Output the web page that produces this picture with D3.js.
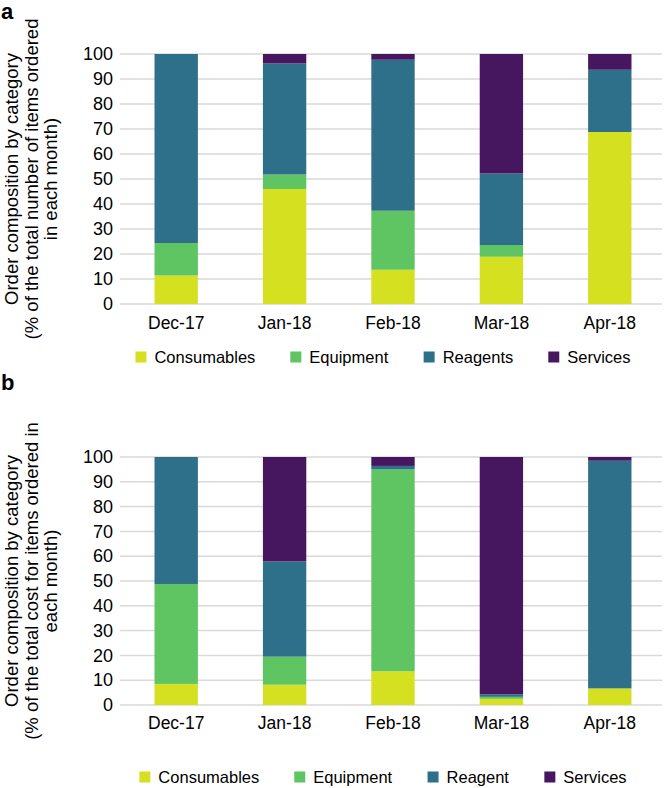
<!DOCTYPE html>
<html>
<head>
<meta charset="utf-8">
<script src="https://cdn.jsdelivr.net/npm/d3@7"></script>
<style>
  body { margin: 0; background: #fff; }
  svg { font-family: "Liberation Sans", Arial, sans-serif; display: block; }
  .grid line { stroke: #d9d9d9; stroke-width: 1.5; }
</style>
</head>
<body>
<svg id="chart" width="664" height="788"></svg>
<script>

var months = ["Dec-17", "Jan-18", "Feb-18", "Mar-18", "Apr-18"];
var yTicks = [0, 10, 20, 30, 40, 50, 60, 70, 80, 90, 100];
var colors = ["#d5e021", "#5fc462", "#2e6f89", "#46165f"];

// panel a: share of number of items
var countCategories = ["Consumables", "Equipment", "Reagents", "Services"];
var countConsumables = [11.4, 46.0, 13.7, 18.9, 68.8];
var countEquipment   = [13.0, 5.8, 23.6, 4.7, 0];
var countReagents    = [75.6, 44.4, 60.4, 28.6, 24.9];
var countServices    = [0, 3.8, 2.3, 47.8, 6.3];

// panel b: share of cost
var costCategories = ["Consumables", "Equipment", "Reagent", "Services"];
var costConsumables = [8.5, 8.2, 13.6, 2.5, 6.7];
var costEquipment   = [40.3, 11.3, 81.4, 0.8, 0];
var costReagent     = [51.2, 38.4, 1.4, 1.0, 91.8];
var costServices    = [0, 42.1, 3.6, 95.7, 1.5];

var svg = d3.select("#chart");

drawPanel({
    letter: "a", letterY: 19,
    top: 54, bottom: 304,
    labelY: 330, legendY: 357,
    title: ["Order composition by category", "(% of the total number of items ordered", "in each month)"],
    categories: countCategories,
    series: [countConsumables, countEquipment, countReagents, countServices]
});

drawPanel({
    letter: "b", letterY: 390,
    top: 457, bottom: 705,
    labelY: 730, legendY: 777,
    title: ["Order composition by category", "(% of the total cost for items ordered in", "each month)"],
    categories: costCategories,
    series: [costConsumables, costEquipment, costReagent, costServices]
});

function drawPanel(p) {
    var left = 122, right = 664;

    var rows = months.map(function(m, i) {
        var r = {month: m};
        p.categories.forEach(function(c, j) { r[c] = p.series[j][i]; });
        return r;
    });

    var x = d3.scaleBand()
        .domain(months)
        .range([left, right])
        .paddingInner(0.6)
        .paddingOuter(0.3);

    var y = d3.scaleLinear()
        .domain([0, 100])
        .range([p.bottom, p.top]);

    var g = svg.append("g");

    // gridlines
    g.append("g")
        .attr("class", "grid")
        .selectAll("line")
        .data(yTicks)
        .enter().append("line")
            .attr("x1", left - 2)
            .attr("x2", right - 2)
            .attr("y1", function(d) { return y(d); })
            .attr("y2", function(d) { return y(d); });

    var yAxis = d3.axisLeft(y).tickValues(yTicks).tickSize(0).tickPadding(9);
    g.append("g")
        .attr("transform", "translate(" + left + ",0)")
        .call(yAxis)
        .call(function(a) { a.select(".domain").remove(); })
        .selectAll("text")
            .attr("font-size", 18)
            .attr("font-family", "Liberation Sans, Arial, sans-serif")
            .attr("fill", "#000");

    var xAxis = d3.axisBottom(x).tickSize(0).tickPadding(0);
    g.append("g")
        .attr("transform", "translate(0," + (p.labelY - 13) + ")")
        .call(xAxis)
        .call(function(a) { a.select(".domain").remove(); })
        .selectAll("text")
            .attr("font-size", 17.5)
            .attr("font-family", "Liberation Sans, Arial, sans-serif")
            .attr("fill", "#000");

    var stacked = d3.stack().keys(p.categories)(rows);

    g.selectAll(".layer")
        .data(stacked)
        .enter().append("g")
            .attr("class", "layer")
            .attr("fill", function(d, i) { return colors[i]; })
        .selectAll("rect")
        .data(function(d) { return d; })
        .enter().append("rect")
            .attr("x", function(d) { return x(d.data.month); })
            .attr("y", function(d) { return y(d[1]); })
            .attr("height", function(d) { return y(d[0]) - y(d[1]); })
            .attr("width", x.bandwidth());

    // panel letter
    svg.append("text")
        .attr("x", 1)
        .attr("y", p.letterY)
        .attr("font-size", 22)
        .attr("font-weight", "bold")
        .text(p.letter);

    // y title, three lines
    var cy = (p.top + p.bottom) / 2;
    var title = svg.append("text")
        .attr("transform", "translate(0," + cy + ") rotate(-90)")
        .attr("text-anchor", "middle")
        .attr("font-size", 18.5);
    title.selectAll("tspan")
        .data(p.title)
        .enter().append("tspan")
            .attr("x", 0)
            .attr("y", function(d, i) { return 18 + i * 19.5; })
            .text(function(d) { return d; });

    // legend
    var legend = svg.append("g");
    var items = legend.selectAll("g")
        .data(p.categories)
        .enter().append("g");
    items.append("rect")
        .attr("width", 11)
        .attr("height", 11)
        .attr("y", p.legendY - 5.5)
        .attr("fill", function(d, i) { return colors[i]; });
    items.append("text")
        .attr("x", 19)
        .attr("y", p.legendY)
        .attr("dy", "0.35em")
        .attr("font-size", 16.5)
        .text(function(d) { return d; });

    var pos = 0;
    items.each(function() {
        var w = this.getBBox().width;
        d3.select(this).attr("transform", "translate(" + pos + ",0)");
        pos += w + 35;
    });
    var total = pos - 35;
    legend.attr("transform", "translate(" + (383 - total / 2) + ",0)");
}
</script>
</body>
</html>
